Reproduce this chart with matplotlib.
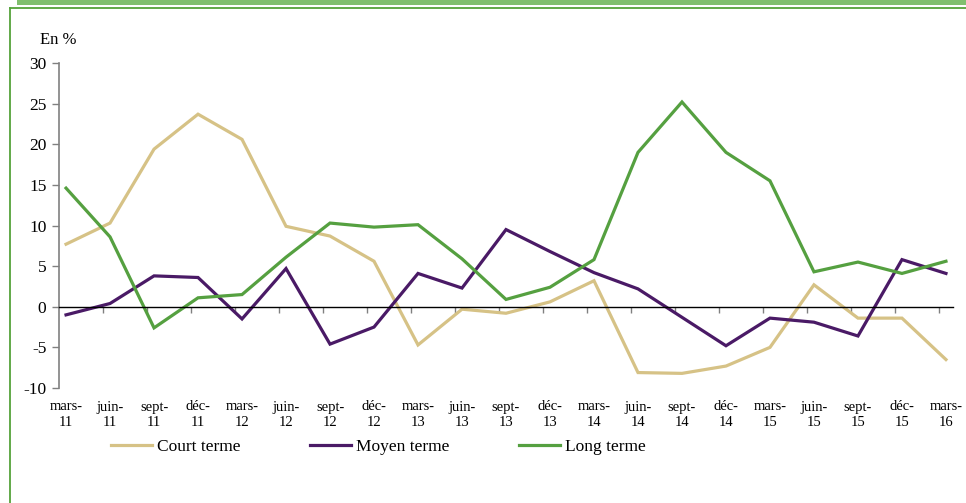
import matplotlib
matplotlib.use("Agg")
import matplotlib.pyplot as plt
from matplotlib.patches import Rectangle
from matplotlib.lines import Line2D
import numpy as np

plt.rcParams['font.family'] = ['Liberation Serif', 'DejaVu Serif']
plt.rcParams['axes.unicode_minus'] = False

categories = ["mars-\n11", "juin-\n11", "sept-\n11", "déc-\n11",
              "mars-\n12", "juin-\n12", "sept-\n12", "déc-\n12",
              "mars-\n13", "juin-\n13", "sept-\n13", "déc-\n13",
              "mars-\n14", "juin-\n14", "sept-\n14", "déc-\n14",
              "mars-\n15", "juin-\n15", "sept-\n15", "déc-\n15",
              "mars-\n16"]

court_terme = [7.7, 10.3, 19.4, 23.7, 20.6, 9.9, 8.7, 5.6, -4.7, -0.3, -0.8,
               0.6, 3.2, -8.1, -8.2, -7.3, -5.0, 2.7, -1.4, -1.4, -6.5]
moyen_terme = [-1.0, 0.4, 3.8, 3.6, -1.5, 4.7, -4.6, -2.5, 4.1, 2.3, 9.5,
               6.8, 4.2, 2.2, -1.3, -4.8, -1.4, -1.9, -3.6, 5.8, 4.1]
long_terme = [14.6, 8.6, -2.6, 1.1, 1.5, 6.1, 10.3, 9.8, 10.1, 5.9, 0.9,
              2.4, 5.8, 19.0, 25.2, 19.0, 15.5, 4.3, 5.5, 4.1, 5.6]

series_names = ["Court terme", "Moyen terme", "Long terme"]
colors = ["#D6C286", "#4A1A66", "#55A040"]

W, H = 966, 503
fig = plt.figure(figsize=(W / 100, H / 100), dpi=100)

# frame decorations
fig.patches.append(Rectangle((17 / W, 1 - 5 / H), (W - 17) / W, 5 / H,
                             transform=fig.transFigure, facecolor="#80BF6E",
                             edgecolor="none", zorder=0))
fig.lines.append(Line2D([10 / W, 10 / W], [0, 1 - 8 / H], transform=fig.transFigure,
                        color="#55A33A", lw=1.3))
fig.lines.append(Line2D([10 / W, 1], [1 - 8 / H, 1 - 8 / H], transform=fig.transFigure,
                        color="#55A33A", lw=1.3))

ax = fig.add_axes([59 / W, (H - 388) / H, (953 - 59) / W, (388 - 63) / H])
x = np.arange(len(categories))
for vals, c, name in zip([court_terme, moyen_terme, long_terme], colors, series_names):
    ax.plot(x, vals, color=c, lw=2.3, label=name, solid_joinstyle='miter')

ax.set_xlim(-0.16, len(categories) - 1 + 0.16)
ax.set_ylim(-10, 30)
ax.set_yticks(np.arange(-10, 31, 5))
ax.tick_params(axis='y', direction='out', length=5, width=1, color="#808080",
               labelsize=12.5, pad=4)
for s in ['top', 'right']:
    ax.spines[s].set_visible(False)
ax.spines['left'].set_color("#808080")
ax.spines['left'].set_linewidth(1.2)
ax.spines['bottom'].set_position(('data', 0))
ax.spines['bottom'].set_color("black")
ax.spines['bottom'].set_linewidth(1.0)
ax.set_xticks(-0.16 + np.arange(1, len(categories)))
ax.tick_params(axis='x', direction='out', length=4, width=1, color="#808080",
               labelbottom=False)

sec = ax.secondary_xaxis('bottom')
sec.set_xticks(x)
sec.set_xticklabels(categories, fontsize=10.5, linespacing=1.25)
sec.tick_params(length=0, pad=9)
sec.spines['bottom'].set_visible(False)

fig.text(40 / W, 1 - 40 / H, "En %", fontsize=12, va='center', ha='left')

fig.legend(loc='center', bbox_to_anchor=(378 / W, 1 - 447 / H), ncol=3,
           frameon=False, fontsize=12.5, handlelength=2.4, handletextpad=0.25,
           columnspacing=4.0, borderpad=0)

fig.savefig("out.png", dpi=100)
